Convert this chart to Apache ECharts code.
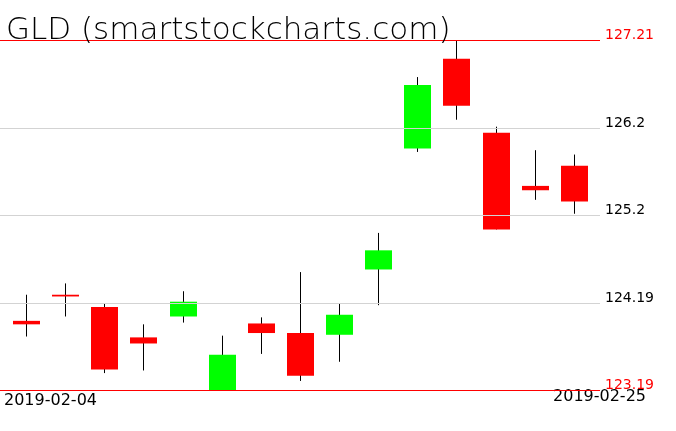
<!DOCTYPE html>
<html>
<head>
<meta charset="utf-8">
<script src="https://cdn.jsdelivr.net/npm/echarts@6/dist/echarts.min.js"></script>
<style>
    html, body { margin: 0; padding: 0; background: #fff; }
    #chart { width: 676px; height: 431px; }
</style>
</head>
<body>
<div id="chart"></div>
<script>
    // daily GLD prices
    const dates = ['2019-02-04', '2019-02-05', '2019-02-06', '2019-02-07', '2019-02-08',
        '2019-02-11', '2019-02-12', '2019-02-13', '2019-02-14', '2019-02-15',
        '2019-02-19', '2019-02-20', '2019-02-21', '2019-02-22', '2019-02-25'];
    const openPrices  = [123.99, 124.29, 124.15, 123.80, 124.04, 123.19, 123.96, 123.85, 123.83, 124.58, 125.97, 127.00, 126.15, 125.54, 125.77];
    const closePrices = [123.95, 124.27, 123.43, 123.73, 124.21, 123.60, 123.85, 123.36, 124.06, 124.80, 126.70, 126.46, 125.04, 125.49, 125.36];
    const lowPrices   = [123.81, 124.04, 123.39, 123.42, 123.97, 123.19, 123.61, 123.30, 123.52, 124.17, 125.93, 126.30, 125.04, 125.38, 125.22];
    const highPrices  = [124.29, 124.42, 124.19, 123.95, 124.33, 123.82, 124.03, 124.55, 124.19, 125.00, 126.79, 127.21, 126.22, 125.95, 125.90];
    // price levels on the right
    const levelLabels = ['127.21', '126.2', '125.2', '124.19', '123.19'];

    const myChart = echarts.init(document.getElementById('chart'));

    const candles = dates.map(function (d, i) {
        return [i, openPrices[i], closePrices[i], lowPrices[i], highPrices[i]];
    });

    const levelLines = levelLabels.map(function (lbl, i) {
        const edge = i === 0 || i === levelLabels.length - 1;
        return {
            yAxis: parseFloat(lbl),
            lineStyle: { color: edge ? '#ff0000' : '#d3d3d3', width: 1, type: 'solid' },
            label: {
                show: true,
                position: 'end',
                distance: 5,
                formatter: lbl,
                color: edge ? '#ff0000' : '#000',
                fontFamily: 'DejaVu Sans',
                fontSize: 14,
                align: 'left',
                verticalAlign: 'bottom',
                lineHeight: 11
            }
        };
    });

    function renderCandle(params, api) {
        const x = api.value(0);
        const o = api.value(1), c = api.value(2);
        const pLow = api.coord([x, api.value(3)]);
        const pHigh = api.coord([x, api.value(4)]);
        const pO = api.coord([x, o]);
        const pC = api.coord([x, c]);
        const w = api.size([0.69, 0])[0];
        const cx = Math.floor(pLow[0]) + 0.5;
        const top = Math.min(pO[1], pC[1]);
        const h = Math.max(Math.abs(pO[1] - pC[1]), 1.5);
        return {
            type: 'group',
            children: [
                {
                    type: 'line',
                    shape: { x1: cx, y1: pHigh[1], x2: cx, y2: pLow[1] },
                    style: { stroke: '#000', lineWidth: 1 }
                },
                {
                    type: 'rect',
                    shape: { x: Math.round(cx - w / 2), y: top, width: Math.round(w), height: h },
                    style: { fill: c >= o ? '#00ff00' : '#ff0000' }
                }
            ]
        };
    }

    const option = {
        backgroundColor: '#fff',
        animation: false,
        title: {
            text: 'GLD (smartstockcharts.com)',
            left: 1,
            top: 10,
            textStyle: {
                fontFamily: 'DejaVu Sans',
                fontWeight: 200,
                fontSize: 31,
                color: '#000'
            }
        },
        grid: {
            left: 0,
            top: 40.5,
            width: 600,
            height: 350
        },
        xAxis: {
            type: 'value',
            min: -0.677,
            max: 14.655,
            show: false
        },
        yAxis: {
            type: 'value',
            min: 123.19,
            max: 127.21,
            show: false
        },
        graphic: [
            {
                type: 'text',
                left: 4,
                top: 393,
                style: { text: dates[0], fill: '#000', font: '16px "DejaVu Sans"' }
            },
            {
                type: 'text',
                right: 30,
                top: 389,
                style: { text: dates[dates.length - 1], fill: '#000', font: '16px "DejaVu Sans"' }
            }
        ],
        series: [
            {
                type: 'custom',
                renderItem: renderCandle,
                data: candles,
                encode: { x: 0, y: [1, 2, 3, 4] },
                clip: false,
                silent: true,
                z: 3
            },
            {
                type: 'line',
                data: [],
                silent: true,
                markLine: {
                    silent: true,
                    symbol: 'none',
                    animation: false,
                    data: levelLines
                }
            }
        ]
    };

    myChart.setOption(option);
</script>
</body>
</html>
